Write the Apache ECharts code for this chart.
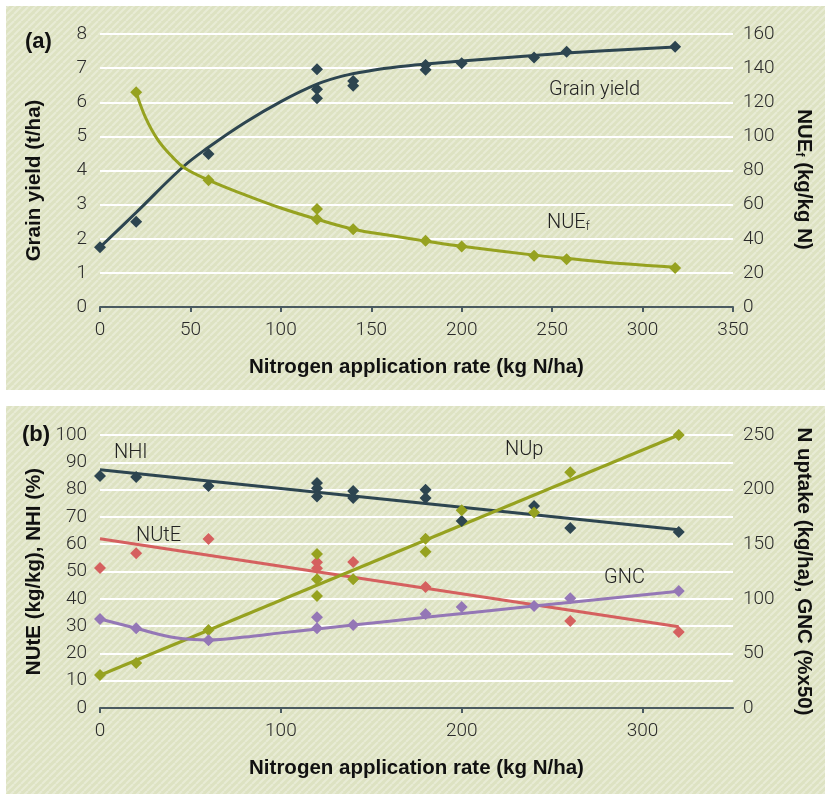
<!DOCTYPE html>
<html>
<head>
<meta charset="utf-8">
<script src="https://cdn.jsdelivr.net/npm/echarts@6/dist/echarts.min.js"></script>
<style>
html,body{margin:0;padding:0;background:#ffffff;}
#chart{width:825px;height:794px;}
</style>
</head>
<body>
<div id="chart"></div>
<script>
// ---------- Panel (a) data ----------
const aGrainN     = [0, 20, 60, 120, 120, 120, 140, 140, 180, 180, 200, 240, 258, 318];
const aGrainYield = [1.75, 2.5, 4.48, 6.97, 6.38, 6.12, 6.62, 6.48, 7.09, 6.95, 7.14, 7.31, 7.48, 7.63];
const aGrainFitN  = [0, 20, 46, 60, 80, 100, 120, 135, 150, 165, 180, 200, 240, 260, 318];
const aGrainFitY  = [1.75, 2.77, 4.11, 4.68, 5.40, 6.02, 6.53, 6.78, 6.93, 7.04, 7.12, 7.21, 7.37, 7.45, 7.62];

const aNueN       = [20, 60, 120, 120, 140, 180, 200, 240, 258, 318];
const aNueF       = [125.8, 74.3, 57.4, 51.4, 45.5, 38.9, 35.4, 30.1, 28.0, 22.9];
const aNueFitN    = [20, 25, 32, 40, 47, 60, 80, 100, 120, 140, 160, 180, 200, 240, 260, 290, 318];
const aNueFitY    = [125.8, 111.5, 98, 88, 81.3, 74.4, 65.8, 58, 51.4, 45.6, 42.0, 38.7, 35.6, 30.4, 28.3, 25.3, 23.3];

const aXTicks     = [0, 50, 100, 150, 200, 250, 300, 350];
const aLeftTicks  = [0, 1, 2, 3, 4, 5, 6, 7, 8];
const aRightTicks = [0, 20, 40, 60, 80, 100, 120, 140, 160];

// ---------- Panel (b) data ----------
const bNhiN   = [0, 20, 60, 120, 120, 120, 140, 140, 180, 180, 200, 240, 260, 320];
const bNhi    = [85, 84.6, 81.3, 82.4, 80.5, 77.5, 79.5, 76.9, 79.9, 76.9, 68.5, 74, 65.9, 64.5];
const bNhiFitN = [0, 320];
const bNhiFit  = [87.3, 65.3];

const bNuteN  = [0, 20, 60, 120, 120, 140, 180, 260, 320];
const bNute   = [51.3, 56.7, 61.9, 53.4, 51.2, 53.5, 44.3, 31.9, 27.8];
const bNuteFitN = [0, 320];
const bNuteFit  = [62, 29.8];

const bNupN   = [0, 20, 60, 120, 120, 120, 140, 180, 180, 200, 240, 260, 320];
const bNup    = [30.2, 41.2, 71.4, 141, 118, 102.6, 118, 143, 155, 181, 179, 216, 250];
const bNupFitN = [0, 320];
const bNupFit  = [30, 250];

const bGncN   = [0, 20, 60, 120, 120, 140, 180, 200, 240, 260, 320];
const bGnc    = [81.5, 73, 62, 83, 73, 76, 86, 92.6, 93.4, 100.5, 107.2];
const bGncFitN = [0, 20, 40, 60, 80, 100, 120, 140, 180, 240, 320];
const bGncFit  = [81.5, 73, 64.8, 62.3, 65, 68.8, 72.3, 76, 83, 93.3, 107];

const bXTicks     = [0, 100, 200, 300];

// ---------- styling ----------
const C_DARK = '#2d4550', C_GREEN = '#96a220', C_RED = '#d5605f', C_PURPLE = '#9477b6';
const AXIS_COL = '#4a5a60';
const LIGHT_FONT = 'Roboto, "Liberation Sans", sans-serif';
const BOLD_FONT = '"Liberation Sans", Arial, sans-serif';

function pairs(xs, ys){ return xs.map((x,i)=>[x, ys[i]]); }

// striped background pattern
const pc = document.createElement('canvas');
const PN = 7;
pc.width = PN; pc.height = PN;
const g = pc.getContext('2d');
g.fillStyle = 'rgb(221,226,194)';
g.fillRect(0,0,PN,PN);
g.strokeStyle = 'rgb(232,235,213)';
g.lineWidth = 2;
[-PN, 0, PN].forEach(o=>{ g.beginPath(); g.moveTo(o, PN); g.lineTo(o+PN, 0); g.stroke(); });

const chart = echarts.init(document.getElementById('chart'), null, {renderer:'canvas'});

const tickLabel = {color:'#2a2a2a', fontSize:19, fontFamily:LIGHT_FONT, fontWeight:300};
const nameStyle = {color:'#111', fontSize:20.5, fontWeight:'bold', fontFamily:BOLD_FONT};

function xAxisDef(grid, ticks){
  return {
    type:'value', gridIndex:grid, min:0, max:350, interval:50,
    axisLine:{show:true, onZero:false, lineStyle:{color:AXIS_COL, width:2}},
    axisTick:{show:true, length:5, inside:false, customValues:ticks, lineStyle:{color:AXIS_COL, width:2}},
    axisLabel:Object.assign({margin:14, customValues:ticks}, tickLabel),
    splitLine:{show:false},
    name:'Nitrogen application rate (kg N/ha)', nameLocation:'middle', nameGap:50,
    nameTextStyle:nameStyle
  };
}

function yAxisDef(grid, pos, min, max, interval, name, extra){
  const left = pos === 'left';
  return Object.assign({
    type:'value', gridIndex:grid, position:pos, min:min, max:max, interval:interval,
    axisLine:{show:false}, axisTick:{show:false},
    axisLabel:Object.assign({margin:left ? 13 : 10}, tickLabel),
    splitLine:{show:left, lineStyle:{color:'#ffffff', width:2}},
    name:name, nameLocation:'middle', nameRotate:left ? 90 : -90,
    nameGap:left ? 55 : 60,
    nameTextStyle:Object.assign({}, nameStyle)
  }, extra || {});
}

const subRich = {f:{fontSize:12, fontWeight:'bold', fontFamily:BOLD_FONT, color:'#111', lineHeight:2, verticalAlign:'bottom'}};

const yA0 = yAxisDef(0,'left',0,8,1,'Grain yield (t/ha)');
yA0.nameTextStyle.padding = [0,20,0,0];
const yA1 = yAxisDef(0,'right',0,160,20,'NUE{f|f} (kg/kg N)');
yA1.nameTextStyle.padding = [0,0,0,18];
yA1.nameTextStyle.rich = subRich;
const yB0 = yAxisDef(1,'left',0,100,10,'NUtE (kg/kg), NHI (%)');
const yB1 = yAxisDef(1,'right',0,250,50,'N uptake (kg/ha), GNC (%x50)');

function lineSeries(name, xi, yi, xs, ys, color, smooth){
  return {
    name:name, type:'line', xAxisIndex:xi, yAxisIndex:yi,
    data:pairs(xs, ys), showSymbol:false, symbol:'none',
    smooth:smooth ? 0.4 : false,
    lineStyle:{color:color, width:3}, z:3, silent:true
  };
}
function scatterSeries(name, xi, yi, xs, ys, color){
  return {
    name:name, type:'scatter', xAxisIndex:xi, yAxisIndex:yi,
    data:pairs(xs, ys), symbol:'diamond', symbolSize:12,
    itemStyle:{color:color, opacity:1}, z:4, silent:true
  };
}

const annot = {fill:'#222', fontSize:20, fontFamily:LIGHT_FONT, fontWeight:300, align:'left', verticalAlign:'middle'};
function txt(text, x, y, extra){
  return {type:'text', z:50, style:Object.assign({text:text, x:x, y:y}, annot, extra || {})};
}

const option = {
  animation:false,
  backgroundColor:'#ffffff',
  grid:[
    {left:100, right:92, top:34, height:273},
    {left:100, right:92, top:435, height:273}
  ],
  xAxis:[ xAxisDef(0, aXTicks), xAxisDef(1, bXTicks) ],
  yAxis:[ yA0, yA1, yB0, yB1 ],
  series:[
    scatterSeries('Grain yield', 0, 0, aGrainN, aGrainYield, C_DARK),
    lineSeries('Grain yield fit', 0, 0, aGrainFitN, aGrainFitY, C_DARK, true),
    scatterSeries('NUEf', 0, 1, aNueN, aNueF, C_GREEN),
    lineSeries('NUEf fit', 0, 1, aNueFitN, aNueFitY, C_GREEN, true),

    scatterSeries('NHI', 1, 2, bNhiN, bNhi, C_DARK),
    lineSeries('NHI fit', 1, 2, bNhiFitN, bNhiFit, C_DARK, false),
    scatterSeries('NUtE', 1, 2, bNuteN, bNute, C_RED),
    lineSeries('NUtE fit', 1, 2, bNuteFitN, bNuteFit, C_RED, false),
    scatterSeries('NUp', 1, 3, bNupN, bNup, C_GREEN),
    lineSeries('NUp fit', 1, 3, bNupFitN, bNupFit, C_GREEN, false),
    scatterSeries('GNC', 1, 3, bGncN, bGnc, C_PURPLE),
    lineSeries('GNC fit', 1, 3, bGncFitN, bGncFit, C_PURPLE, true)
  ],
  graphic:[
    {type:'rect', z:-100, silent:true, shape:{x:6, y:6, width:819, height:384}, style:{fill:{image:pc, repeat:'repeat'}}},
    {type:'rect', z:-100, silent:true, shape:{x:6, y:406, width:819, height:388}, style:{fill:{image:pc, repeat:'repeat'}}},
    txt('(a)', 25, 42, {fontFamily:BOLD_FONT, fontWeight:'bold', fontSize:22, fill:'#111'}),
    txt('(b)', 22, 435, {fontFamily:BOLD_FONT, fontWeight:'bold', fontSize:22, fill:'#111'}),
    txt('Grain yield', 549, 90),
    txt('NUE{f|f}', 547, 223, {rich:{f:{fontSize:12, fontFamily:LIGHT_FONT, fontWeight:300, fill:'#222', lineHeight:2, verticalAlign:'bottom'}}}),
    txt('NHI', 114, 453),
    txt('NUtE', 136, 536),
    txt('NUp', 505, 450),
    txt('GNC', 604, 578)
  ]
};
chart.setOption(option);
</script>
</body>
</html>
